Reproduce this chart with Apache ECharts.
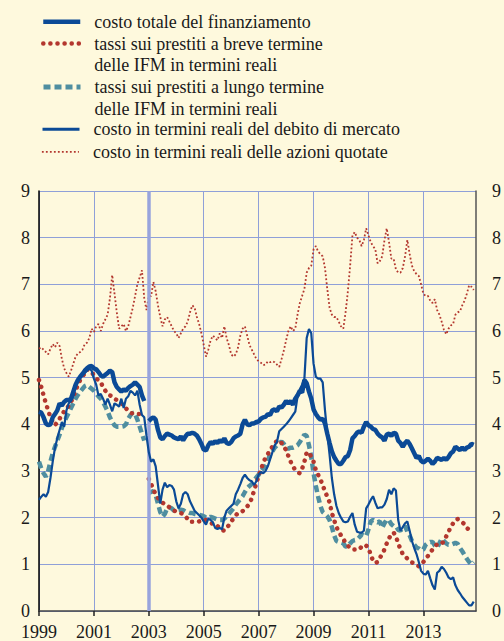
<!DOCTYPE html>
<html><head><meta charset="utf-8">
<script src="https://cdn.jsdelivr.net/npm/echarts@6/dist/echarts.min.js"></script>
<style>html,body{margin:0;padding:0;background:#FEF9DD}#c{width:504px;height:641px}</style>
</head><body><div id="c"></div>
<script>
const years = [1999,2000,2001,2002,2003,2004,2005,2006,2007,2008,2009,2010,2011,2012,2013,2014];
const months = [];
years.forEach(function(y){ for (let m = 1; m <= 12; m++) months.push(y + '-' + (m < 10 ? '0' : '') + m); });
const tickLabels = ['1999','2001','2003','2005','2007','2009','2011','2013'];
const breakMonth = '2003-01';

const costoTotale = [
4.27,4.25,4.15,4.02,3.98,4.0,4.15,4.22,4.3,4.45,4.4,4.48,
4.52,4.52,4.55,4.7,4.85,4.95,5.02,5.08,5.15,5.2,5.24,5.25,
5.2,5.18,5.12,5.05,5.02,5.06,5.1,5.15,5.12,4.9,4.8,4.75,
4.7,4.75,4.72,4.78,4.82,4.85,4.9,4.85,4.8,4.62,4.5,null,
4.07,4.12,4.15,4.1,3.88,3.72,3.68,3.75,3.8,3.78,3.76,3.72,
3.7,3.68,3.74,3.66,3.74,3.8,3.8,3.82,3.8,3.76,3.68,3.58,
3.46,3.44,3.55,3.62,3.58,3.64,3.6,3.66,3.62,3.7,3.6,3.58,
3.62,3.7,3.74,3.76,3.8,4.0,4.1,4.0,3.98,4.02,4.02,4.05,
4.06,4.12,4.15,4.16,4.22,4.2,4.3,4.32,4.28,4.38,4.36,4.42,
4.5,4.45,4.5,4.42,4.55,4.62,4.72,4.68,4.95,4.88,4.7,4.55,
4.32,4.22,4.15,4.1,4.12,4.02,3.8,3.6,3.42,3.3,3.22,3.15,
3.15,3.22,3.3,3.32,3.45,3.7,3.75,3.82,3.85,3.82,3.95,4.05,
3.98,3.95,3.9,3.88,3.8,3.75,3.72,3.65,3.78,3.8,3.75,3.82,
3.8,3.65,3.6,3.52,3.6,3.65,3.58,3.48,3.38,3.28,3.32,3.22,
3.18,3.22,3.26,3.22,3.15,3.2,3.28,3.26,3.24,3.28,3.24,3.3,
3.38,3.42,3.52,3.48,3.45,3.5,3.45,3.5,3.52,3.58,3.56];

const breveTermine = [
4.95,4.8,4.62,4.45,4.3,4.15,4.05,3.98,4.05,4.12,4.2,4.28,
4.33,4.4,4.48,4.6,4.72,4.85,4.95,5.02,5.1,5.18,5.15,5.12,
5.05,4.98,4.95,4.9,4.8,4.72,4.65,4.62,4.6,4.55,4.52,4.5,
4.45,4.38,4.34,4.3,4.25,4.23,4.22,4.22,4.22,4.2,4.2,null,
2.83,2.72,2.6,2.5,2.42,2.36,2.32,2.29,2.26,2.22,2.18,2.15,
2.13,2.11,2.1,2.07,2.03,1.97,1.91,1.91,1.91,1.91,1.92,1.94,
1.96,1.95,1.93,1.9,1.86,1.82,1.82,1.78,1.73,1.72,1.78,1.84,
1.92,1.98,2.05,2.1,2.12,2.14,2.18,2.24,2.3,2.42,2.58,2.74,
2.9,3.02,3.18,3.28,3.36,3.45,3.52,3.6,3.64,3.66,3.6,3.52,
3.45,3.32,3.2,3.1,3.02,2.98,2.95,3.05,3.2,3.4,3.4,3.3,
3.2,3.02,2.92,2.82,2.7,2.56,2.45,2.33,2.1,1.95,1.8,1.7,
1.62,1.55,1.45,1.4,1.35,1.32,1.32,1.32,1.32,1.38,1.42,1.4,
1.36,1.2,1.08,1.03,1.05,1.14,1.22,1.32,1.45,1.56,1.64,1.68,
1.6,1.45,1.32,1.22,1.18,1.12,1.08,1.04,1.02,0.98,0.96,0.98,
1.05,1.12,1.18,1.25,1.32,1.38,1.43,1.44,1.44,1.5,1.6,1.7,
1.8,1.88,1.95,1.97,1.94,1.9,1.86,1.78,1.74,null,null];

const lungoTermine = [
3.2,3.05,2.95,2.88,3.0,3.2,3.38,3.52,3.65,3.78,3.92,4.05,
4.15,4.25,4.35,4.45,4.55,4.63,4.7,4.76,4.82,4.84,4.8,4.76,
4.72,4.66,4.6,4.55,4.48,4.38,4.28,4.15,4.05,3.98,3.95,3.95,
3.95,3.96,4.0,4.12,4.2,4.25,4.22,4.1,3.95,3.8,3.65,null,
2.53,2.55,2.57,2.48,2.3,2.12,2.02,2.08,2.2,2.22,2.2,2.15,
2.14,2.16,2.17,2.16,2.13,2.12,2.1,2.1,2.08,2.07,2.06,2.05,
2.03,2.0,2.0,2.02,2.0,1.98,1.96,1.95,1.95,1.98,2.03,2.08,
2.14,2.2,2.28,2.34,2.4,2.46,2.55,2.63,2.68,2.72,2.8,2.86,
2.92,3.0,3.06,3.12,3.22,3.35,3.42,3.5,3.55,3.6,3.63,3.58,
3.5,3.48,3.5,3.5,3.52,3.55,3.62,3.7,3.78,3.75,3.55,3.3,
2.95,2.68,2.45,2.25,2.12,2.08,2.03,1.95,1.8,1.62,1.5,1.48,
1.47,1.45,1.38,1.38,1.45,1.5,1.52,1.53,1.58,1.64,1.62,1.6,
1.75,1.92,1.95,1.92,1.9,1.92,1.78,1.88,1.96,1.94,1.86,1.82,
1.82,1.74,1.72,1.8,1.82,1.7,1.62,1.5,1.42,1.36,1.34,1.3,
1.32,1.42,1.46,1.48,1.48,1.4,1.36,1.45,1.55,1.5,1.45,1.42,
1.42,1.44,1.46,1.44,1.35,1.28,1.2,1.12,1.05,1.0,1.05];

const debitoMercato = [
2.38,2.45,2.5,2.45,2.55,2.85,3.2,3.5,3.7,3.88,4.05,3.95,
4.3,4.45,4.5,4.6,4.8,4.92,5.0,5.05,5.1,5.15,5.2,5.15,
4.98,4.85,4.62,4.65,4.55,4.42,4.55,4.42,4.28,4.45,4.42,4.38,
4.55,4.35,4.55,4.6,4.72,4.68,4.62,4.72,4.42,4.2,4.15,3.75,
3.4,3.2,3.25,3.1,2.7,2.3,2.6,2.75,2.65,2.7,2.68,2.6,
2.35,2.2,2.3,2.5,2.55,2.5,2.35,2.25,2.15,2.1,2.05,2.0,
1.92,1.85,1.98,1.95,1.9,1.78,1.76,1.78,1.75,2.0,2.15,2.2,
2.25,2.3,2.5,2.6,2.72,2.85,2.92,2.85,2.8,2.78,2.7,2.78,
2.92,2.98,2.95,3.0,3.1,3.25,3.4,3.55,3.62,3.85,3.9,3.95,
4.0,4.06,4.13,4.2,4.27,4.6,4.75,4.85,4.98,5.85,6.04,5.95,
5.3,5.02,4.98,4.98,4.9,4.3,3.8,3.35,2.85,2.5,2.25,2.1,
2.0,1.92,1.9,1.92,2.02,2.1,1.85,1.7,1.68,1.68,1.72,2.2,
2.28,2.38,2.46,2.32,2.2,2.22,2.22,2.28,2.4,2.6,2.5,2.63,
2.58,1.95,1.72,1.8,1.88,1.92,1.72,1.5,1.35,1.22,1.05,0.86,
0.8,0.78,0.86,0.7,0.55,0.46,0.82,0.86,0.95,0.9,0.82,0.72,
0.68,0.72,0.55,0.45,0.38,0.3,0.24,0.18,0.12,0.12,0.2];

const azioniQuotate = [
5.62,5.65,5.6,5.55,5.5,5.62,5.72,5.65,5.75,5.68,5.4,5.2,
5.1,5.02,5.15,5.3,5.45,5.52,5.55,5.6,5.72,5.75,5.85,6.05,
5.98,6.1,6.15,6.0,6.15,6.25,6.35,6.7,7.2,6.8,6.4,6.05,
6.1,6.15,6.0,6.1,6.3,6.5,6.75,7.0,7.15,7.3,6.7,6.45,
6.75,6.75,7.05,6.85,6.55,6.3,6.1,6.25,6.3,6.2,6.1,6.0,
5.95,5.85,5.95,6.05,6.1,6.2,6.4,6.55,6.5,6.3,6.15,5.95,
5.7,5.45,5.6,5.8,5.9,5.85,5.8,5.95,5.85,6.1,5.85,5.7,
5.5,5.45,5.5,5.65,5.9,6.05,6.1,5.9,5.7,5.6,5.5,5.4,
5.35,5.32,5.27,5.28,5.35,5.33,5.35,5.33,5.28,5.23,5.4,5.58,
5.8,6.0,6.1,6.0,6.05,6.35,6.6,6.75,6.9,7.25,7.35,7.4,
7.75,7.82,7.7,7.65,7.6,7.35,6.9,6.5,6.35,6.3,6.3,6.2,
6.1,6.05,6.4,6.85,7.4,8.05,8.12,8.0,7.95,7.82,7.95,8.2,
8.05,7.9,7.82,7.75,7.45,7.5,7.6,7.95,8.2,7.9,7.55,7.55,
7.32,7.25,7.25,7.35,7.6,7.95,7.65,7.4,7.28,7.22,7.18,7.0,
6.8,6.75,6.75,6.65,6.6,6.68,6.45,6.35,6.2,6.02,5.93,6.05,
6.12,6.15,6.35,6.4,6.42,6.55,6.65,6.8,6.98,6.95,6.88];

const names = [
  'costo totale del finanziamento',
  'tassi sui prestiti a breve termine\ndelle IFM in termini reali',
  'tassi sui prestiti a lungo termine\ndelle IFM in termini reali',
  'costo in termini reali del debito di mercato',
  'costo in termini reali delle azioni quotate'
];

const FONT = "'Liberation Serif','Times New Roman',serif";
const BLUE = '#0B4A96', RED = '#B3372E', TEAL = '#4F8EA0', GRID = '#8FA0D8';
const everyTwoYears = function(i){ return i % 24 === 0; };

function legendFor(name, top, twoLines, width){
  return {
    data: [name], top: top, left: 41, orient: 'vertical', padding: 0,
    itemWidth: 37, itemHeight: 14, selectedMode: false,
    itemStyle: { opacity: 0 },
    lineStyle: { width: width },
    formatter: function(n){ return twoLines ? '\n' + n : n; },
    textStyle: { fontFamily: FONT, fontSize: 18, color: '#1a1a1a', lineHeight: 21.7,
                 padding: [0, 0, 0, 9] }
  };
}

const chart = echarts.init(document.getElementById('c'), null, { renderer: 'svg' });
chart.setOption({
  backgroundColor: '#FEF9DD',
  animation: false,
  legend: [
    legendFor(names[0], 22 - 11, false, 4.5),
    legendFor(names[1], 43.5 - 32.5, true, 4.5),
    legendFor(names[2], 87 - 32.5, true, 5),
    legendFor(names[3], 129.5 - 11, false, 3),
    legendFor(names[4], 152 - 11, false, 1.8)
  ],
  grid: { left: 39, right: 17, top: 191, bottom: 27.5, containLabel: false },
  xAxis: {
    type: 'category', data: months, boundaryGap: false,
    axisLine: { show: true, lineStyle: { color: '#444', width: 1.5 } },
    axisTick: { show: true, interval: everyTwoYears, length: 5, lineStyle: { color: '#222', width: 1.5 } },
    axisLabel: { interval: everyTwoYears, margin: 12, fontFamily: FONT, fontSize: 18, color: '#1a1a1a',
                 formatter: function(v, i){ return tickLabels[i / 24] || ''; } },
    splitLine: { show: true, interval: everyTwoYears, lineStyle: { color: GRID, width: 1 } }
  },
  yAxis: [
    { type: 'value', min: 0, max: 9, interval: 1, position: 'left',
      axisLine: { show: true, lineStyle: { color: '#000', width: 1.5 } }, axisTick: { show: false },
      axisLabel: { margin: 9, fontFamily: FONT, fontSize: 18, color: '#1a1a1a' },
      splitLine: { show: true, lineStyle: { color: GRID, width: 1 } } },
    { type: 'value', min: 0, max: 9, interval: 1, position: 'right',
      axisLine: { show: true, lineStyle: { color: '#555', width: 1.5 } }, axisTick: { show: false },
      axisLabel: { margin: 16, fontFamily: FONT, fontSize: 18, color: '#1a1a1a' },
      splitLine: { show: false } }
  ],
  series: [
    { name: names[4], type: 'line', data: azioniQuotate, symbol: 'none', z: 2,
      lineStyle: { color: RED, width: 1.8, type: [1.8, 2.2] }, itemStyle: { color: RED },
      markLine: { silent: true, symbol: 'none', label: { show: false },
        lineStyle: { color: '#98A4DC', width: 3.5, type: 'solid' }, data: [{ xAxis: breakMonth }] } },
    { name: names[2], type: 'line', data: lungoTermine, symbol: 'none', z: 3,
      lineStyle: { color: TEAL, width: 4.5, type: [7, 4] }, itemStyle: { color: TEAL } },
    { name: names[1], type: 'line', data: breveTermine, symbol: 'none', z: 4,
      lineStyle: { color: RED, width: 4.5, type: [0.1, 7], cap: 'round' }, itemStyle: { color: RED } },
    { name: names[3], type: 'line', data: debitoMercato, symbol: 'none', z: 5,
      lineStyle: { color: BLUE, width: 2.2 }, itemStyle: { color: BLUE } },
    { name: names[0], type: 'line', data: costoTotale, symbol: 'none', z: 6,
      lineStyle: { color: BLUE, width: 4.5 }, itemStyle: { color: BLUE } }
  ]
});
</script></body></html>
